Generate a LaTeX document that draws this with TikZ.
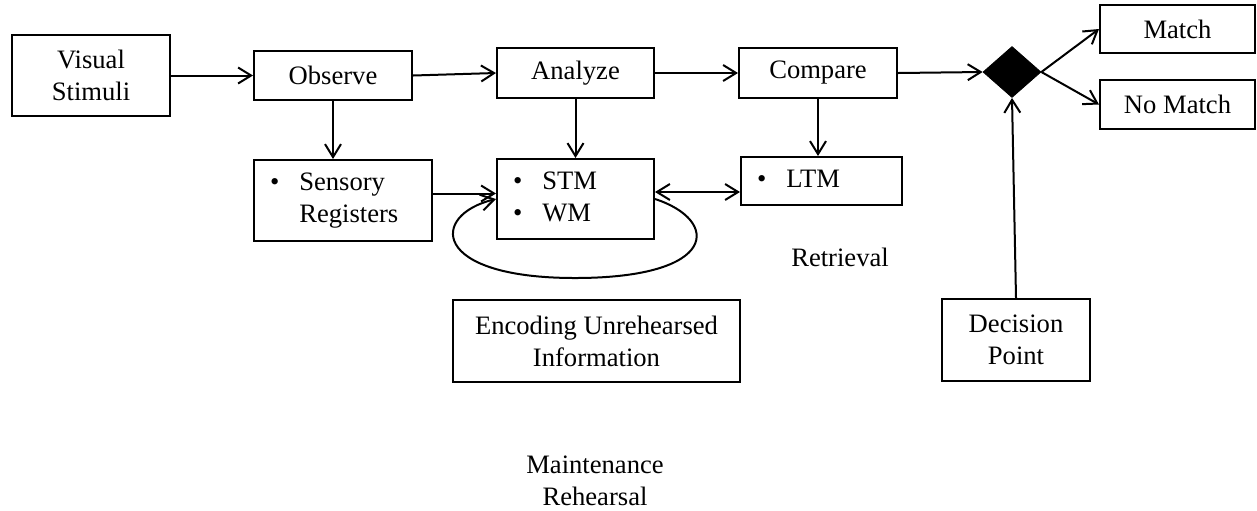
\documentclass[tikz,border=0pt]{standalone}
\usepackage{fontspec}
\setmainfont{Liberation Serif}
\usetikzlibrary{arrows.meta,shapes.geometric,calc}
\begin{document}
\begin{tikzpicture}[x=0.5pt,y=-0.5pt,
  font=\fontsize{13.3}{16}\selectfont,
  box/.style={draw, line width=1pt, inner sep=0pt, align=center},
  bulbox/.style={draw, line width=1pt, inner ysep=0pt, inner xsep=8pt, align=left},
  arr/.style={line width=1pt, -{Straight Barb[length=6.5pt,width=8pt,line width=1pt]}},
  darr/.style={line width=1pt, {Straight Barb[length=6.5pt,width=8pt,line width=1pt]}-{Straight Barb[length=6.5pt,width=8pt,line width=1pt]}},
  lbl/.style={align=center, inner sep=0pt}]
\useasboundingbox (0,0) rectangle (1257,510);
\newcommand\blist[1]{\begin{tabular}{@{}l@{\hspace{10pt}}l@{}}#1\end{tabular}}

\node[box, minimum width=79pt, minimum height=40.5pt] (vs) at (91,75.5) {Visual\\Stimuli};
\node[box, minimum width=79pt, minimum height=24.5pt] (obs) at (333,75.5) {Observe};
\node[box, minimum width=78.5pt, minimum height=25pt] (ana) at (575.5,73) {Analyze};
\node[box, minimum width=79pt, minimum height=25pt] (cmp) at (818,73) {Compare};
\node[bulbox, text width=73pt, minimum height=40.5pt] (sr) at (343,200.5) {\blist{\textbullet & Sensory\\ & Registers}};
\node[bulbox, text width=62.5pt, minimum height=40pt] (stm) at (575.5,199) {\blist{\textbullet & STM\\ \textbullet & WM}};
\node[bulbox, text width=64.5pt, minimum height=24pt] (ltm) at (821.5,181) {\blist{\textbullet & LTM}};
\node[box, minimum width=143.5pt, minimum height=41pt] (enc) at (596.5,341) {Encoding Unrehearsed\\Information};
\node[box, minimum width=74pt, minimum height=41pt] (dec) at (1016,340) {Decision\\Point};
\node[box, minimum width=77.5pt, minimum height=24pt] (match) at (1177.5,29) {Match};
\node[box, minimum width=77.5pt, minimum height=24.5pt] (nomatch) at (1177.5,104.5) {No Match};
\node[diamond, fill=black, draw=black, inner sep=0pt, minimum width=29pt, minimum height=25.5pt] (dia) at (1012,72) {};
\node[lbl] (ret) at (840,257) {Retrieval};
\node[lbl] (mr) at (595,481) {Maintenance\\Rehearsal};

\draw[arr] (vs.east) -- (obs.west);
\draw[arr] (obs.east) -- (ana.west);
\draw[arr] (ana.east) -- (cmp.west);
\draw[arr] (cmp.east) -- (dia.west);
\draw[arr] (dia.east) -- (match.west);
\draw[arr] (dia.east) -- (nomatch.west);
\draw[arr] (dec.north) -- (dia.south);
\draw[arr] (obs.south) -- (obs.south |- sr.north);
\draw[arr] (ana.south) -- (stm.north);
\draw[arr] (cmp.south) -- (cmp.south |- ltm.north);
\draw[arr] ([yshift=3.5pt]sr.east) -- ([yshift=3.5pt]sr.east -| stm.west);
\draw[darr] ([yshift=3.5pt]stm.east) -- ([yshift=3.5pt]stm.east -| ltm.west);
\draw[arr] (stm.east) .. controls (720,220) and (720,278) .. (575,278) .. controls (430,278) and (430,215) .. (stm.west);
\end{tikzpicture}
\end{document}
